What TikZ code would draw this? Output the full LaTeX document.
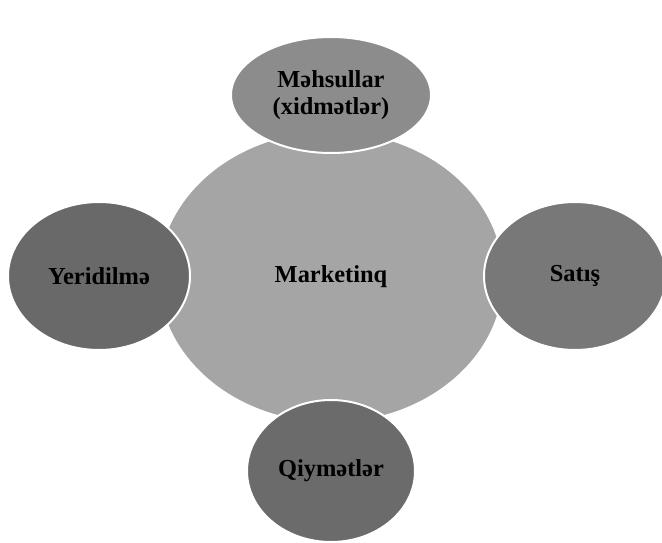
\documentclass[tikz,border=0pt]{standalone}
\usepackage{fontspec}
\setmainfont{Liberation Serif}
\usetikzlibrary{shapes.geometric}
\definecolor{cCenter}{RGB}{165,165,165}
\definecolor{cTop}{RGB}{140,140,140}
\definecolor{cLeft}{RGB}{105,105,105}
\definecolor{cRight}{RGB}{120,120,120}
\definecolor{cBottom}{RGB}{107,107,107}
\tikzset{
  blob/.style={ellipse, inner sep=0pt, align=center, font=\bfseries\fontsize{24.5}{27}\selectfont, text=black},
  outer/.style={blob, draw=white, line width=2bp},
}
\begin{document}
\begin{tikzpicture}[x=1bp,y=-1bp]
\useasboundingbox (0,0) rectangle (662,543);
\node[blob, fill=cCenter, minimum width=344bp, minimum height=290bp] (c) at (331,277) {Marketinq};
\node[outer, fill=cTop, minimum width=200bp, minimum height=116bp] (t) at (331,95) {Məhsullar\\(xidmətlər)};
\node[outer, fill=cLeft, minimum width=182bp, minimum height=148bp] (l) at (99,276) {Yeridilmə};
\node[outer, fill=cRight, minimum width=182bp, minimum height=148bp] (r) at (575,276) {Satış};
\node[outer, fill=cBottom, minimum width=168bp, minimum height=142bp] (b) at (331,471) {Qiymətlər};
\end{tikzpicture}
\end{document}
